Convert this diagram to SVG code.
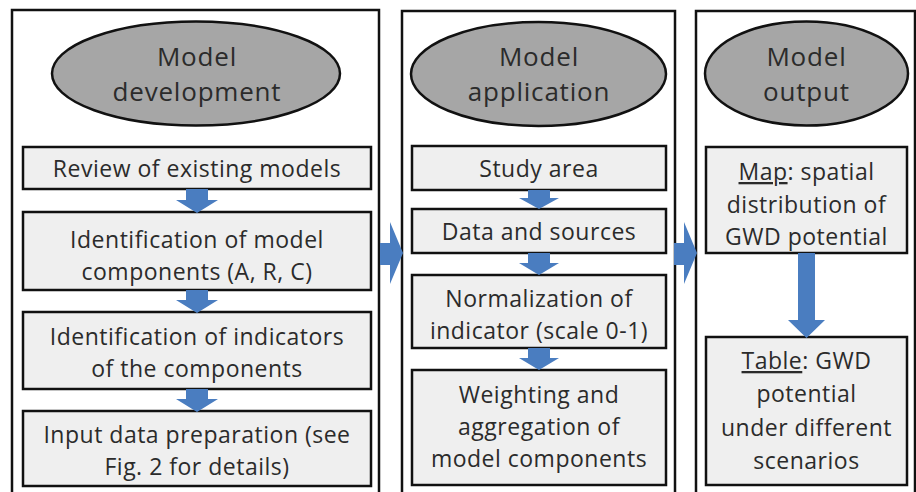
<svg xmlns="http://www.w3.org/2000/svg" width="916" height="492" viewBox="0 0 916 492">
  <style>
    .panel { fill: #ffffff; stroke: #111111; stroke-width: 2.5; }
    .head { fill: #a6a6a6; stroke: #111111; stroke-width: 2.5; }
    .box { fill: #efefef; stroke: #111111; stroke-width: 2.5; }
    .arrow { fill: #4a7dc0; }
    text { font-family: "Open Sans", "Noto Sans", sans-serif; fill: #2b2b2b; text-anchor: middle; }
    .title { font-size: 26px; letter-spacing: 0.8px; }
    .label { font-size: 23px; letter-spacing: 0.5px; }
    .u { text-decoration: underline; }
  </style>

  <!-- Column frames -->
  <g id="panels">
    <rect class="panel" x="12" y="10" width="367" height="490"/>
    <rect class="panel" x="402" y="11" width="273" height="490"/>
    <rect class="panel" x="696" y="11" width="219" height="490"/>
  </g>

  <!-- Column 1: model development -->
  <g id="dev-title">
    <ellipse class="head" cx="196" cy="73.5" rx="144" ry="52"/>
    <text class="title" x="197" y="65.5">Model</text>
    <text class="title" x="197" y="101">development</text>
  </g>
  <g id="dev-review">
    <rect class="box" x="23" y="147" width="348" height="42"/>
    <text class="label" x="197" y="177">Review of existing models</text>
  </g>
  <g id="dev-components">
    <rect class="box" x="23" y="212" width="348" height="78"/>
    <text class="label" x="197" y="248">Identification of model</text>
    <text class="label" x="197" y="280">components (A, R, C)</text>
  </g>
  <g id="dev-indicators">
    <rect class="box" x="23" y="312" width="348" height="77"/>
    <text class="label" x="197" y="345">Identification of indicators</text>
    <text class="label" x="197" y="377">of the components</text>
  </g>
  <g id="dev-input">
    <rect class="box" x="23" y="411" width="348" height="75"/>
    <text class="label" x="197" y="443">Input data preparation (see</text>
    <text class="label" x="197" y="475">Fig. 2 for details)</text>
  </g>

  <!-- Column 2: model application -->
  <g id="app-title">
    <ellipse class="head" cx="538.5" cy="74" rx="127.5" ry="52"/>
    <text class="title" x="539" y="65.5">Model</text>
    <text class="title" x="539" y="101">application</text>
  </g>
  <g id="app-study">
    <rect class="box" x="412" y="146" width="254" height="44"/>
    <text class="label" x="539" y="177">Study area</text>
  </g>
  <g id="app-data">
    <rect class="box" x="412" y="209" width="254" height="44"/>
    <text class="label" x="539" y="240">Data and sources</text>
  </g>
  <g id="app-normalize">
    <rect class="box" x="412" y="275" width="254" height="73"/>
    <text class="label" x="539" y="307">Normalization of</text>
    <text class="label" x="539" y="339">indicator (scale 0-1)</text>
  </g>
  <g id="app-weighting">
    <rect class="box" x="412" y="370" width="254" height="115"/>
    <text class="label" x="539" y="403">Weighting and</text>
    <text class="label" x="539" y="435">aggregation of</text>
    <text class="label" x="539" y="467">model components</text>
  </g>

  <!-- Column 3: model output -->
  <g id="out-title">
    <ellipse class="head" cx="806.5" cy="73.5" rx="101.5" ry="52"/>
    <text class="title" x="806.5" y="65.5">Model</text>
    <text class="title" x="806.5" y="101">output</text>
  </g>
  <g id="out-map">
    <rect class="box" x="706" y="147" width="201" height="106"/>
    <text class="label" x="806.5" y="180"><tspan class="u">Map</tspan>: spatial</text>
    <text class="label" x="806.5" y="213">distribution of</text>
    <text class="label" x="806.5" y="245">GWD potential</text>
  </g>
  <g id="out-table">
    <rect class="box" x="706" y="337" width="201" height="148"/>
    <text class="label" x="806.5" y="369"><tspan class="u">Table</tspan>: GWD</text>
    <text class="label" x="806.5" y="402">potential</text>
    <text class="label" x="806.5" y="436">under different</text>
    <text class="label" x="806.5" y="469">scenarios</text>
  </g>

  <!-- Block arrows -->
  <g id="connectors">
    <polygon class="arrow" points="186,189 208,189 208,200 218,200 197,213 176,200 186,200"/>
    <polygon class="arrow" points="186,290 208,290 208,300 218,300 197,313 176,300 186,300"/>
    <polygon class="arrow" points="186,389 208,389 208,399 218,399 197,412 176,399 186,399"/>

    <polygon class="arrow" points="528,190 550,190 550,198 559,198 539,209 519,198 528,198"/>
    <polygon class="arrow" points="528,253 550,253 550,263 559,263 539,275 519,263 528,263"/>
    <polygon class="arrow" points="528,348 550,348 550,358 559,358 539,370 519,358 528,358"/>

    <polygon class="arrow" points="798,253 815,253 815,320 825,320 806.5,338 788,320 798,320"/>

    <polygon class="arrow" points="380,243 390,243 390,222 403,253 390,284 390,265 380,265"/>
    <polygon class="arrow" points="674,243 684,243 684,222 697,253 684,284 684,265 674,265"/>
  </g>
</svg>
